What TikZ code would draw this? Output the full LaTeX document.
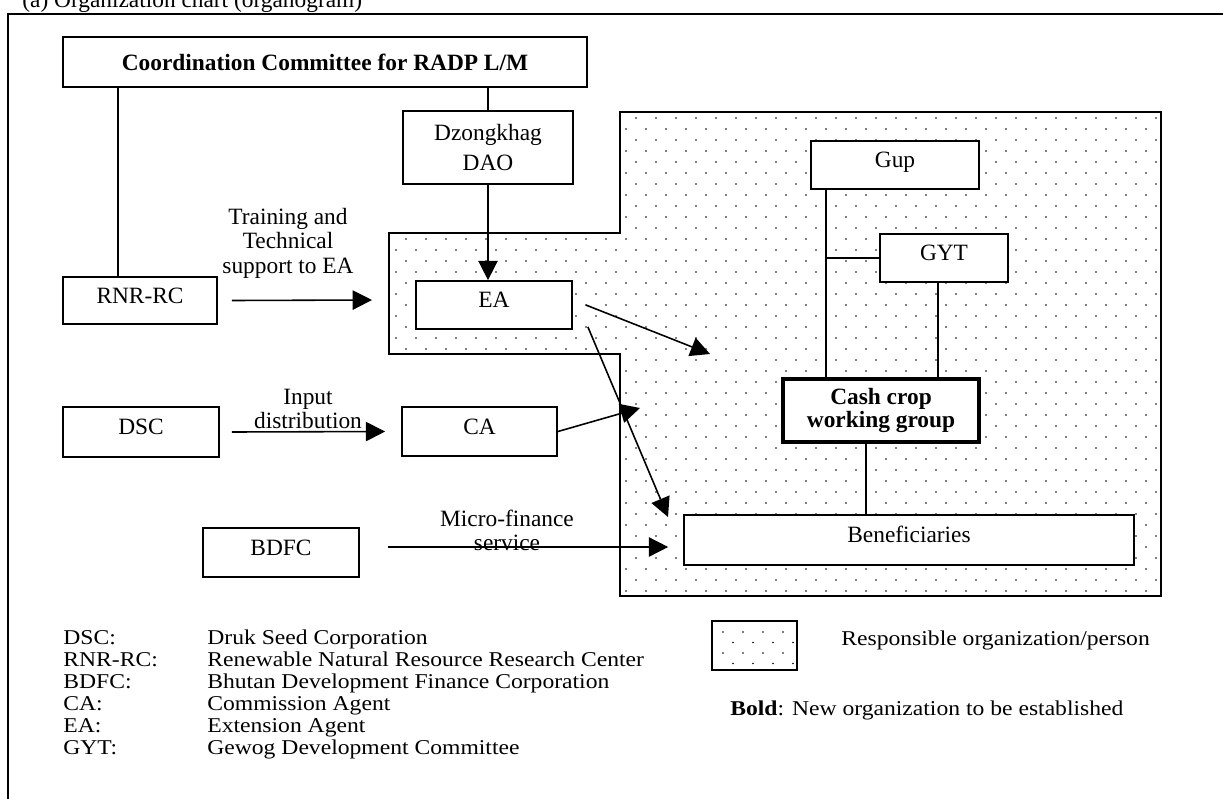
\documentclass[tikz,border=0pt]{standalone}
\usepackage{fontspec}
\setmainfont{Liberation Serif}
\newfontfamily\legendfont[FakeStretch=1.12]{Liberation Serif}
\usetikzlibrary{arrows.meta,positioning}

\tikzset{
  boxbase/.style={draw, line width=1pt, fill=white, inner sep=0pt, align=center,
    font=\fontsize{13.3}{14}\selectfont},
  box/.style={boxbase, text height=0.3cm, text depth=0.2cm},
  newbox/.style={boxbase, line width=1.9pt, font=\fontsize{13.3}{13.6}\selectfont\bfseries},
  conn/.style={line width=0.9pt},
  arr/.style={conn, -{Triangle[length=11pt,width=11pt]}},
  lbl/.style={align=center, inner sep=0pt, font=\fontsize{13.3}{13.6}\selectfont},
  leg/.style={anchor=base west, inner sep=0pt, font=\legendfont\fontsize{12}{12.5}\selectfont},
}

\begin{document}
\begin{tikzpicture}[x=0.02cm, y=-0.02cm]
  \useasboundingbox (0,0) rectangle (1223,798);

  % the frame and its caption
  \draw[line width=0.8pt] (8,800) -- (8,14) -- (1225,14);
  \node[anchor=base west, inner sep=0pt, font=\fontsize{13.3}{15}\selectfont] (title) at (22,7)
    {(a) Organization chart (organogram)};

  % the dotted area of the responsible organizations
  \begin{scope}
    \clip (620,112) -- (1161,112) -- (1161,596) -- (620,596) -- (620,354)
      -- (389,354) -- (389,233) -- (620,233) -- cycle;
    \foreach \r in {0,...,43}
      \foreach \c in {0,...,38}
        \fill ({396+20*\c+10*mod(\r,2)},{118+11*\r}) circle[radius=0.55pt];
  \end{scope}
  \draw[line width=1pt] (620,112) -- (1161,112) -- (1161,596) -- (620,596) -- (620,354)
    -- (389,354) -- (389,233) -- (620,233) -- cycle;

  % the boxes
  \node[boxbase, font=\fontsize{13.3}{14}\selectfont\bfseries, minimum width=10.48cm, minimum height=1cm]
    (coord) at (325,62) {Coordination Committee for RADP L/M};
  \node[boxbase, font=\fontsize{13.3}{17}\selectfont, minimum width=3.4cm, minimum height=1.46cm]
    (dao) at (488,147.5) {Dzongkhag\\DAO};
  \node[box, minimum width=3.08cm, minimum height=0.94cm] (rnr) at (140,300.5) {RNR-RC};
  \node[box, minimum width=3.12cm, minimum height=0.96cm] (ea) at (494,305) {EA};
  \node[box, minimum width=3.12cm, minimum height=1cm] (dsc) at (141,432) {DSC};
  \node[box, minimum width=3.1cm, minimum height=0.98cm] (ca) at (479.5,431.5) {CA};
  \node[box, minimum width=3.12cm, minimum height=0.98cm] (bdfc) at (281,552.5) {BDFC};
  \node[box, minimum width=3.36cm, minimum height=0.96cm] (gup) at (895,165) {Gup};
  \node[box, minimum width=2.56cm, minimum height=0.96cm] (gyt) at (944,258) {GYT};
  \node[newbox, minimum width=3.92cm, minimum height=1.26cm] (cash) at (881,410.5) {Cash crop\\working group};
  \node[box, minimum width=9cm, minimum height=1cm] (ben) at (909,540) {Beneficiaries};

  % the labels on the arrows
  \node[lbl, font=\fontsize{13.3}{14}\selectfont] (training) at (288,243) {Training and\\Technical\\support to EA};
  \node[lbl] (input) at (308,409) {Input\\distribution};
  \node[lbl] (micro) at (507,530) {Micro-finance\\service};

  % lines of the hierarchy
  \draw[conn] ([xshift=-0.44cm]rnr.north) -- ([xshift=-0.44cm]rnr.north |- coord.south);
  \draw[conn] (dao.north) -- (dao.north |- coord.south);
  \draw[conn] ([xshift=-1.38cm]gup.south) -- ([xshift=-1.38cm]gup.south |- cash.north);
  \draw[conn] ([xshift=-1.38cm]gup.south |- gyt.west) -- (gyt.west);
  \draw[conn] ([xshift=-0.12cm]gyt.south) -- ([xshift=-0.12cm]gyt.south |- cash.north);
  \draw[conn] ([xshift=-0.3cm]cash.south) -- ([xshift=-0.3cm]cash.south |- ben.north);

  % the arrows
  \coordinate (trainend) at (372,300);
  \coordinate (caend) at (640,408);
  \coordinate (eaend) at (710,354);
  \coordinate (benend) at (668,517);
  \coordinate (microstart) at (388,547);
  \draw[arr] (dao.south) -- (dao.south |- ea.north);
  \draw[arr] ([xshift=0.28cm]rnr.east) -- (trainend);
  \draw[arr] ([xshift=0.24cm]dsc.east) -- ([xshift=-0.32cm]ca.west);
  \draw[arr] (ca.east) -- (caend);
  \draw[arr] ([xshift=0.26cm]ea.east) -- (eaend);
  \draw[arr] ([xshift=0.3cm,yshift=0.06cm]ea.south east) -- (benend);
  \draw[arr, shorten >=0.3cm] (microstart) -- (microstart -| ben.west);

  % the legend
  \foreach \abbr/\full [count=\i from 0] in {DSC:/Druk Seed Corporation,
      RNR-RC:/Renewable Natural Resource Research Center,
      BDFC:/Bhutan Development Finance Corporation,
      CA:/Commission Agent, EA:/Extension Agent, GYT:/Gewog Development Committee} {
    \node[leg] (abbr\i) at (63,{644+22*\i}) {\abbr};
    \node[leg] (full\i) at (207,{644+22*\i}) {\full};
  }
  \begin{scope}
    \clip (712,621) rectangle (797,670);
    \foreach \r in {0,...,3}
      \foreach \c in {0,...,4}
        \fill ({723+20*\c+10*mod(\r,2)},{632+10.5*\r}) circle[radius=0.55pt];
  \end{scope}
  \node[draw, line width=1.4pt, minimum width=1.7cm, minimum height=0.98cm, inner sep=0pt]
    (legbox) at (754.5,645.5) {};
  \node[leg] (legresp) at (841,645) {Responsible organization/person};
  \node[leg] (legbold) at (730,715) {\textbf{Bold}: New organization to be established};
\end{tikzpicture}
\end{document}
